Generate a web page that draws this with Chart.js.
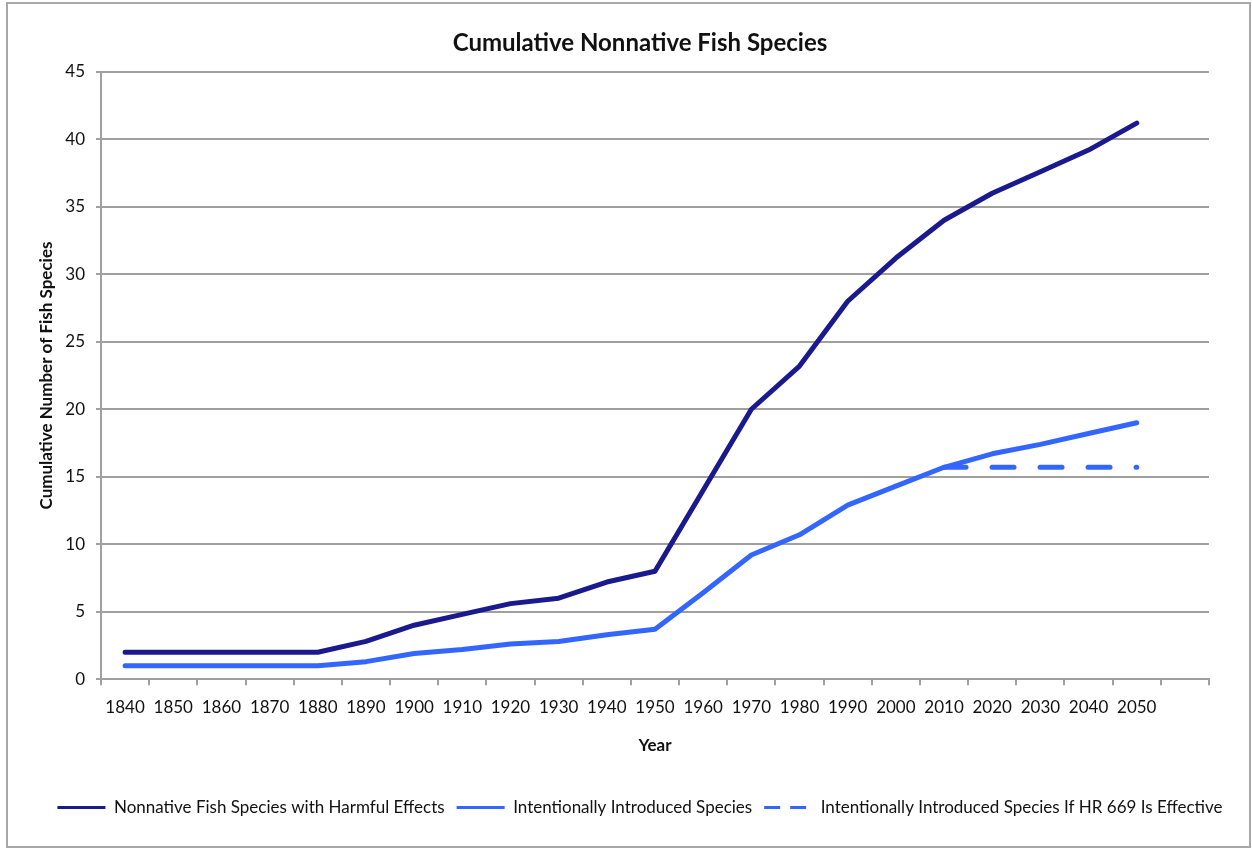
<!DOCTYPE html>
<html>
<head>
<meta charset="utf-8">
<title>Cumulative Nonnative Fish Species</title>
<script src="https://cdn.jsdelivr.net/npm/chart.js@4/dist/chart.umd.min.js"></script>
<style>
  html, body { margin: 0; padding: 0; background: #fff; }
  #wrap { position: relative; width: 1252px; height: 849px; }
</style>
</head>
<body>
<div id="wrap"><canvas id="fishChart"></canvas></div>
<script>
// chart data
const years = ['1840', '1850', '1860', '1870', '1880', '1890', '1900', '1910', '1920', '1930', '1940',
  '1950', '1960', '1970', '1980', '1990', '2000', '2010', '2020', '2030', '2040', '2050', ''];
const harmfulSpecies = [2, 2, 2, 2, 2, 2.8, 4, 4.8, 5.6, 6, 7.2, 8, 14, 20, 23.2, 28, 31.2, 34, 36, 37.6, 39.2, 41.2];
const introducedSpecies = [1, 1, 1, 1, 1, 1.3, 1.9, 2.2, 2.6, 2.8, 3.3, 3.7, 6.4, 9.2, 10.7, 12.9, 14.3, 15.7, 16.7, 17.4, 18.2, 19];
const hr669Species = [null, null, null, null, null, null, null, null, null, null, null,
  null, null, null, null, null, null, 15.7, 15.7, 15.7, 15.7, 15.7];
const yTicks = [0, 5, 10, 15, 20, 25, 30, 35, 40, 45];

const navy = '#1a1a8e';
const blue = '#3366ff';
const gridGray = '#a0a0a0';
const FONT = 'Lato, Calibri, "Open Sans", sans-serif';

// grey frame round the whole chart
const framePlugin = {
  id: 'frame',
  beforeDraw(chart) {
    const ctx = chart.ctx;
    ctx.save();
    ctx.fillStyle = '#fff';
    ctx.fillRect(0, 0, chart.width, chart.height);
    ctx.strokeStyle = '#a8a8a8';
    ctx.lineWidth = 2;
    ctx.strokeRect(7, 3, 1243, 844);
    ctx.restore();
  }
};

const ctx = document.getElementById('fishChart').getContext('2d');
new Chart(ctx, {
  type: 'line',
  data: {
    labels: years,
    datasets: [
      {
        label: 'Nonnative Fish Species with Harmful Effects',
        data: harmfulSpecies,
        borderColor: navy,
        backgroundColor: navy,
        borderWidth: 5,
        borderCapStyle: 'round',
        borderJoinStyle: 'round',
        pointRadius: 0,
        tension: 0
      },
      {
        label: 'Intentionally Introduced Species',
        data: introducedSpecies,
        borderColor: blue,
        backgroundColor: blue,
        borderWidth: 5,
        borderCapStyle: 'round',
        borderJoinStyle: 'round',
        pointRadius: 0,
        tension: 0
      },
      {
        label: 'Intentionally Introduced Species If HR 669 Is Effective',
        data: hr669Species,
        borderColor: blue,
        backgroundColor: blue,
        borderWidth: 5,
        borderDash: [22, 26],
        borderCapStyle: 'round',
        pointRadius: 0,
        tension: 0
      }
    ]
  },
  options: {
    responsive: true,
    maintainAspectRatio: false,
    animation: false,
    layout: { padding: { left: 36, right: 8, top: 8, bottom: 23 } },
    plugins: {
      tooltip: { enabled: false },
      title: {
        display: true,
        text: 'Cumulative Nonnative Fish Species',
        color: '#111',
        font: { family: FONT, size: 24, weight: 'bold' },
        padding: { top: 21, bottom: 14 }
      },
      legend: {
        position: 'bottom',
        labels: {
          color: '#111',
          font: { family: FONT, size: 17 },
          usePointStyle: true,
          pointStyle: 'line',
          pointStyleWidth: 48,
          padding: 12,
          generateLabels(chart) {
            const items = Chart.defaults.plugins.legend.labels.generateLabels(chart);
            items.forEach((it, i) => {
              it.lineWidth = 3;
              it.lineCap = 'butt';
              it.pointStyle = 'line';
              it.lineDash = i === 2 ? [16, 10] : [];
            });
            return items;
          }
        }
      }
    },
    scales: {
      x: {
        offset: true,
        grid: {
          offset: true,
          drawOnChartArea: false,
          drawTicks: true,
          tickLength: 6,
          color: gridGray,
          lineWidth: 2
        },
        border: { display: true, color: gridGray, width: 2 },
        ticks: {
          color: '#111',
          font: { family: FONT, size: 17 },
          padding: 12,
          maxRotation: 0,
          autoSkip: false
        },
        title: {
          display: true,
          text: 'Year',
          color: '#111',
          font: { family: FONT, size: 17, weight: 'bold' },
          padding: { top: 6, bottom: 31 }
        }
      },
      y: {
        min: 0,
        max: 45,
        afterBuildTicks(scale) {
          scale.ticks = yTicks.map(v => ({ value: v }));
        },
        afterFit(scale) { scale.width = 65; },
        grid: { color: gridGray, lineWidth: 2, tickLength: 5 },
        border: { display: true, color: gridGray, width: 2 },
        ticks: {
          color: '#111',
          font: { family: FONT, size: 17 },
          padding: 11
        },
        title: {
          display: true,
          text: 'Cumulative Number of Fish Species',
          color: '#111',
          font: { family: FONT, size: 17, weight: 'bold' },
          padding: { top: 0, bottom: 0 }
        }
      },
      // empty right-hand box so that title and legend sit where the reference has them
      yRight: {
        position: 'right',
        display: true,
        grid: { display: false },
        border: { display: false },
        ticks: { display: false },
        afterFit(scale) { scale.width = 35; }
      }
    }
  },
  plugins: [framePlugin]
});
</script>
</body>
</html>
